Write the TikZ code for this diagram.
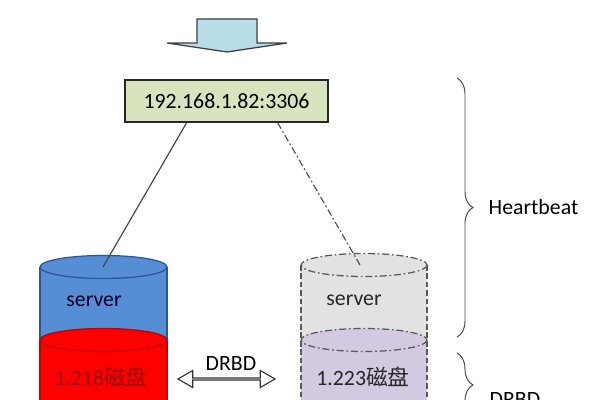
\documentclass[tikz,border=0pt]{standalone}
\usepackage{fontspec}
\setmainfont{Carlito}
\newfontfamily\cjk{Noto Sans CJK SC}
\usepackage{tikz}
\usetikzlibrary{calc, shapes.arrows, decorations.pathreplacing}
\definecolor{arrowblue}{HTML}{B7DDE8}
\definecolor{ipgreen}{HTML}{D7E4BD}
\definecolor{srvblue}{HTML}{558ED5}
\definecolor{srvblueline}{HTML}{2F5597}
\definecolor{diskred}{HTML}{FF0000}
\definecolor{diskredline}{HTML}{C00000}
\definecolor{srvgray}{HTML}{E2E2E2}
\definecolor{disklilac}{HTML}{D3C9E0}
\definecolor{edgegray}{HTML}{595959}
\tikzset{
	lbl/.style={font=\fontsize{15.5}{18}\selectfont, inner sep=1pt},
	ipbox/.style={draw=black!85, line width=0.9pt, fill=ipgreen, minimum width=203*0.025cm, minimum height=42*0.025cm, lbl},
	dashdot/.style={dash pattern=on 5pt off 2pt on 1.2pt off 2pt},
	sync/.style={double arrow, draw=black!80, line width=0.8pt, fill=white, minimum height=97*0.025cm, minimum width=17*0.025cm, inner sep=0pt, double arrow head extend=0.11cm, double arrow tip angle=60},
	bracket/.style={decorate, decoration={brace, amplitude=0.4cm}, draw=black!70, line width=0.7pt},
}
\begin{document}
\begin{tikzpicture}[x=0.025cm, y=-0.025cm]
		\useasboundingbox (0,0) rectangle (600,400);
		\clip (0,0) rectangle (600,400);

		% the incoming arrow
		\draw[fill=arrowblue, draw=black!75, line width=0.9pt] (197,19) -- (257,19) -- (257,43) -- (287,43) -- (227,52) -- (167,43) -- (197,43) -- cycle;

		% the virtual address
		\node[ipbox] (ip) at (226.5,101) {192.168.1.82:3306};

		% the master cylinder
		\fill[srvblue] (40,267) rectangle (167,340);
		\fill[diskred] (40,340) rectangle (167,420);
		\draw[srvblueline, line width=0.9pt] (40,267) -- (40,340) (167,267) -- (167,340);
		\draw[diskredline, line width=0.9pt] (40,340) -- (40,420) (167,340) -- (167,420);
		\draw[srvblueline, fill=srvblue, line width=0.9pt] (103.5,267) ellipse [x radius=63.5, y radius=11.5];
		\draw[diskredline, fill=diskred, line width=0.9pt] (103.5,340) ellipse [x radius=63.5, y radius=11.5];
		\coordinate (topA) at (103,267);
		\node[lbl, text=black!85!blue] (srvA) at (94,301) {server};
		\node[lbl, text=diskredline!80!black] (diskA) at (101,377) {1.218\cjk 磁盘};

		% the standby cylinder
		\fill[srvgray] (301,265) rectangle (427,340);
		\fill[disklilac] (301,340) rectangle (427,420);
		\draw[edgegray, line width=0.9pt, dash pattern=on 4pt off 2pt] (301,265) -- (301,420) (427,265) -- (427,420);
		\draw[edgegray, fill=srvgray, line width=0.9pt, dashdot] (364,265) ellipse [x radius=63, y radius=11.5];
		\draw[edgegray, fill=disklilac, line width=0.9pt, dashdot] (364,340) ellipse [x radius=63, y radius=11.5];
		\coordinate (topB) at (360,265);
		\node[lbl, text=black!85] (srvB) at (354,300) {server};
		\node[lbl, text=black!85] (diskB) at (363,377) {1.223\cjk 磁盘};

		% the links
		\draw[black!75, line width=0.8pt] ($(ip.south west)!0.305!(ip.south east)$) -- (topA);
		\draw[black!70, line width=0.8pt, dashdot] ($(ip.south west)!0.75!(ip.south east)$) -- (topB);

		% the replication
		\node[sync] (drbd) at (226.5,379) {};
		\node[lbl] (drbdlbl) at (231,364) {DRBD};

		% the braces
		\draw[bracket] (457,78) -- (457,337);
		\node[lbl, anchor=west] (hb) at (487,207) {Heartbeat};
		\draw[bracket] (457,353) -- (457,417);
		\node[lbl, anchor=west] (drbdside) at (488,400) {DRBD};
	\end{tikzpicture}
\end{document}
